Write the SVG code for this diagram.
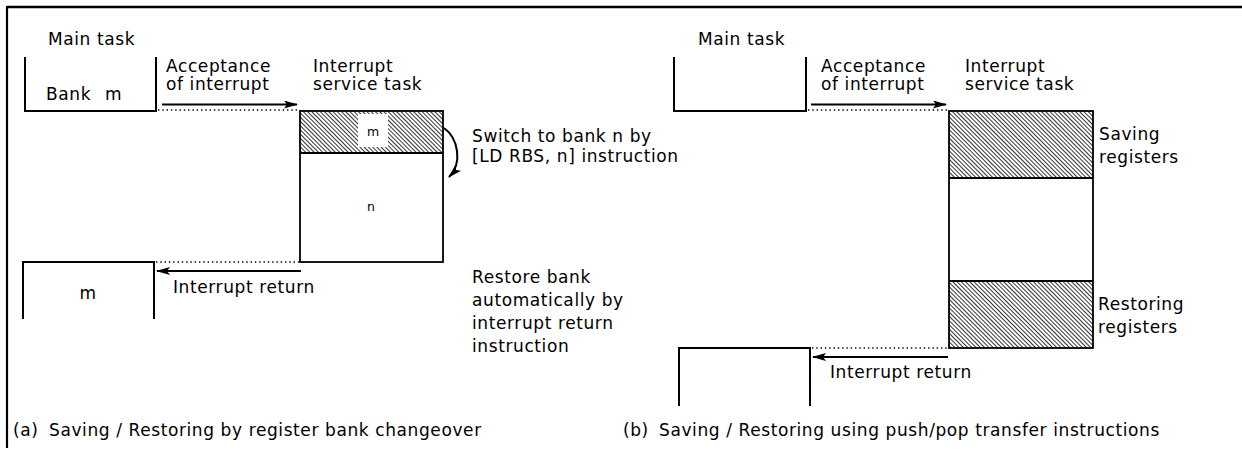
<svg xmlns="http://www.w3.org/2000/svg" width="1242" height="450" viewBox="0 0 1242 450">
<style>
text{font-family:"DejaVu Sans","Liberation Sans",sans-serif;font-size:17px;fill:#000;letter-spacing:0.6px}
.sm{font-size:12.5px;letter-spacing:0}
.ln{fill:none;stroke:#000;stroke-width:2}
.bx{stroke:#000;stroke-width:1.8}
.dot{fill:none;stroke:#000;stroke-width:1.6;stroke-dasharray:1.4 2.9}
.arr{fill:none;stroke:#000;stroke-width:2}
</style>
<defs>
<pattern id="hatch" width="3" height="3" patternUnits="userSpaceOnUse" patternTransform="rotate(-45)">
<rect width="3" height="3" fill="#fff"/>
<line x1="0.5" y1="0" x2="0.5" y2="3" stroke="#000" stroke-width="0.8"/>
</pattern>
<marker id="ah" viewBox="0 0 14 8" refX="13" refY="4" markerWidth="14" markerHeight="8" markerUnits="userSpaceOnUse" orient="auto">
<path d="M0,0 L14,4 L0,8 L3,4 Z" fill="#000"/>
</marker>
</defs>
<g id="frame">
<line x1="7" y1="7" x2="1242" y2="7" stroke="#000" stroke-width="2.4"/>
<line x1="7" y1="6" x2="7" y2="448" stroke="#000" stroke-width="2.2"/>
</g>

<!-- (a) -->
<g id="a-main">
<text x="48" y="45">Main task</text>
<polyline class="ln" points="25,57 25,111 156,111 156,57"/>
<text x="46" y="100">Bank<tspan x="105">m</tspan></text>
</g>
<g id="a-isr">
<text x="313" y="72">Interrupt</text>
<text x="313" y="90">service task</text>
<rect x="300" y="111" width="143" height="42" fill="url(#hatch)"/>
<rect x="358" y="114" width="30" height="33" fill="#fff"/>
<text class="sm" x="373" y="136" text-anchor="middle">m</text>
<rect class="bx" x="300" y="111" width="143" height="151" fill="none"/>
<line class="bx" x1="300" y1="153" x2="443" y2="153"/>
<text class="sm" x="371" y="211" text-anchor="middle">n</text>
</g>
<g id="a-ret">
<polyline class="ln" points="23,319 23,262 154,262 154,319"/>
<text x="88" y="299" text-anchor="middle">m</text>
</g>
<g id="a-notes">
<text x="472" y="142">Switch to bank n by</text>
<text x="472" y="162">[LD RBS, n] instruction</text>
<text x="472" y="283">Restore bank</text>
<text x="472" y="306">automatically by</text>
<text x="472" y="329">interrupt return</text>
<text x="472" y="352">instruction</text>
<text x="13" y="436">(a)<tspan x="49">Saving / Restoring by register bank changeover</tspan></text>
</g>

<!-- (b) -->
<g id="b-main">
<text x="698" y="45">Main task</text>
<polyline class="ln" points="674,57 674,111 806,111 806,57"/>
</g>
<g id="b-isr">
<text x="965" y="72">Interrupt</text>
<text x="965" y="90">service task</text>
<rect x="949" y="111" width="144" height="67" fill="url(#hatch)"/>
<rect x="949" y="281" width="144" height="67" fill="url(#hatch)"/>
<rect class="bx" x="949" y="111" width="144" height="237" fill="none"/>
<line class="bx" x1="949" y1="178" x2="1093" y2="178"/>
<line class="bx" x1="949" y1="281" x2="1093" y2="281"/>
<text x="1099" y="140">Saving</text>
<text x="1099" y="163">registers</text>
<text x="1098" y="310">Restoring</text>
<text x="1098" y="333">registers</text>
</g>
<g id="b-ret">
<polyline class="ln" points="679,406 679,348 810,348 810,406"/>
</g>
<g id="b-notes">
<text x="623" y="436">(b)<tspan x="659">Saving / Restoring using push/pop transfer instructions</tspan></text>
</g>

<g id="connectors">
<line class="dot" x1="158" y1="110" x2="299" y2="110"/>
<line class="arr" x1="162" y1="104.5" x2="297" y2="104.5" marker-end="url(#ah)"/>
<text x="166" y="72">Acceptance</text>
<text x="166" y="90">of interrupt</text>
<line class="dot" x1="156" y1="262" x2="299" y2="262"/>
<line class="arr" x1="301" y1="271" x2="157" y2="271" marker-end="url(#ah)"/>
<text x="173" y="293">Interrupt return</text>
<path class="arr" d="M444,128 C458,138 463,163 449,177" stroke-width="1.6" marker-end="url(#ah)"/>

<line class="dot" x1="808" y1="110" x2="948" y2="110"/>
<line class="arr" x1="811" y1="104.5" x2="946" y2="104.5" marker-end="url(#ah)"/>
<text x="821" y="72">Acceptance</text>
<text x="821" y="90">of interrupt</text>
<line class="dot" x1="812" y1="348" x2="948" y2="348"/>
<line class="arr" x1="948" y1="357" x2="813" y2="357" marker-end="url(#ah)"/>
<text x="830" y="378">Interrupt return</text>
</g>
</svg>
